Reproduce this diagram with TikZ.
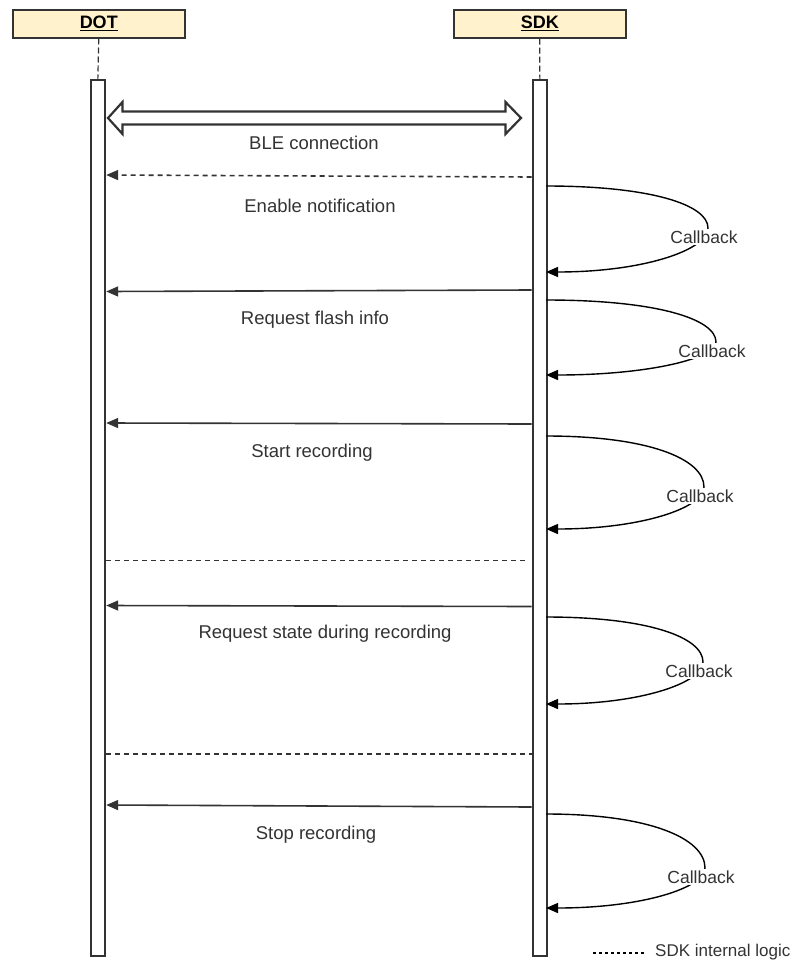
\documentclass[tikz,border=0pt]{standalone}
\usepackage{fontspec}
\setmainfont{Liberation Sans}
\usetikzlibrary{arrows.meta,calc}
\definecolor{ink}{HTML}{333333}
\definecolor{hdrfill}{HTML}{FFF2CC}
\tikzset{
  hdr/.style={draw=ink, line width=1.5pt, fill=hdrfill, anchor=north west, minimum width=172pt, minimum height=28pt, inner sep=0pt, font=\fontsize{18}{20}\selectfont\bfseries, text=black},
  bar/.style={draw=ink, line width=2.2pt, fill=white, anchor=north west, minimum width=14.5pt, minimum height=876pt, inner sep=0pt},
  life/.style={draw=ink, line width=1.2pt, dash pattern=on 6pt off 3pt},
  msg/.style={draw=ink, line width=1.6pt, -{Triangle[length=12pt,width=10pt]}},
  dmsg/.style={msg, dash pattern=on 5pt off 4pt},
  sep/.style={draw=ink, line width=1.4pt, dash pattern=on 5pt off 4pt},
  cb/.style={draw=black, line width=1.4pt, -{Triangle[length=12pt,width=10pt]}},
  lbl/.style={text=ink, font=\fontsize{18.5}{21}\selectfont, inner sep=0pt},
  cblbl/.style={text=ink, font=\fontsize{17.5}{20}\selectfont, fill=white, inner sep=1.5pt},
  dbl/.style={draw=ink, line width=2.2pt, fill=white, line join=miter}
}
\newcommand{\mycallback}[5]{%
  % #1 name, #2 ystart, #3 yend, #4 xlabel, #5 ylabel
  \coordinate (#1s) at (546,#2);
  \coordinate (#1e) at (546,#3);
  \coordinate (#1r) at ({#4+4},{#5-9});
  \draw[cb] (#1s) .. controls ($(#1s)!0.65!(#1s -| #1r)$) and ($(#1r)!0.55!(#1r |- #1s)$) .. (#1r)
     .. controls ($(#1r)!0.5!(#1r |- #1e)$) and ($(#1e)!0.6!(#1e -| #1r)$) .. (#1e);
  \node[cblbl] (#1l) at (#4,#5) {Callback};
}
\begin{document}
\begin{tikzpicture}[x=1pt,y=-1pt]
\useasboundingbox (0,0) rectangle (792,964);
% headers
\node[hdr] (dot) at (12,9) {\underline{DOT}};
\node[hdr] (sdk) at (453,9) {\underline{SDK}};
% bars
\node[bar] (dotbar) at (89.5,79) {};
\node[bar] (sdkbar) at (531.5,79) {};
\draw[life] (dot.south) -- (dotbar.north);
\draw[life] (sdk.south) -- (sdkbar.north);
% BLE double arrow
\coordinate (bl) at (108,118);
\coordinate (br) at (521,118);
\draw[dbl] (bl) -- ++(14.5,-16) -- ++(0,9.5) -- ([shift={(-15.5,-6.5)}]br) -- ++(0,-9.5) -- (br)
  -- ++(-15.5,16) -- ++(0,-9.5) -- ([shift={(14.5,6.5)}]bl) -- ++(0,9.5) -- cycle;
\node[lbl] (ble) at (314,143) {BLE connection};
% messages
\draw[dmsg] (sdkbar.west |- 0,177) -- (dotbar.east |- 0,175);
\node[lbl] (m1) at (320,206) {Enable notification};
\draw[msg] (sdkbar.west |- 0,290) -- (dotbar.east |- 0,291.5);
\node[lbl] (m2) at (315,320) {Request flash info};
\draw[msg] (sdkbar.west |- 0,424) -- (dotbar.east |- 0,423);
\node[lbl] (m3) at (312,453) {Start recording};
\draw[sep] (dotbar.east |- 0,560.5) -- (525,560.5);
\draw[msg] (sdkbar.west |- 0,606.5) -- (dotbar.east |- 0,605.5);
\node[lbl] (m4) at (325,634) {Request state during recording};
\draw[sep] (dotbar.east |- 0,754) -- (sdkbar.west |- 0,754);
\draw[msg] (sdkbar.west |- 0,807) -- (dotbar.east |- 0,805);
\node[lbl] (m5) at (316,835) {Stop recording};
% callbacks
\mycallback{a}{186}{272}{704}{237}
\mycallback{b}{300}{375}{712}{351}
\mycallback{c}{436}{529}{700}{496}
\mycallback{d}{617}{704}{699}{671}
\mycallback{e}{814}{908}{701}{877}
% legend
\coordinate (lg1) at (593,953);
\coordinate (lg2) at (645,953);
\draw[black, line width=2.5pt, dash pattern=on 3pt off 3pt] (lg1) -- (lg2);
\node[lbl, anchor=west, font=\fontsize{17}{20}\selectfont] (lgt) at (655,952) {SDK internal logic};
\end{tikzpicture}
\end{document}
